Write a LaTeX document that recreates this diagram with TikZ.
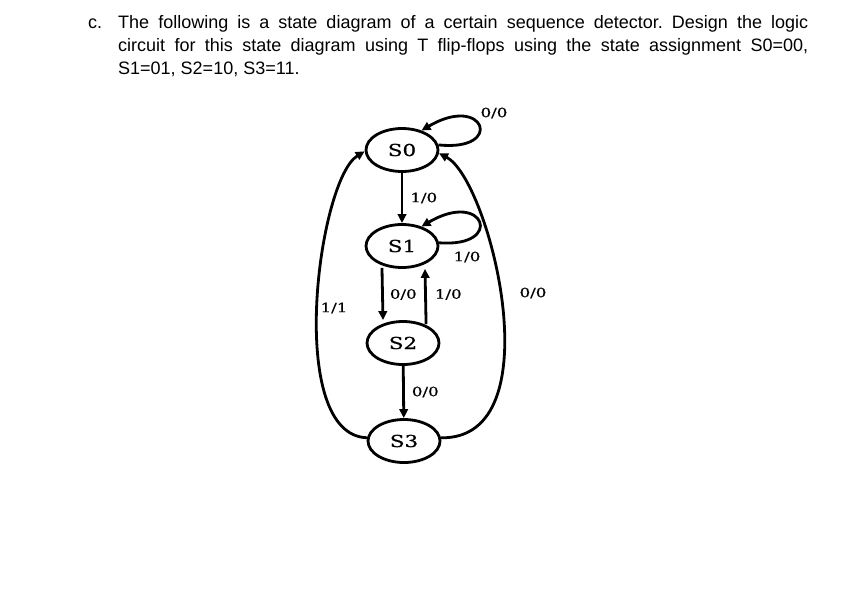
\documentclass[tikz,border=0pt]{standalone}
\usepackage{fontspec}
\setmainfont{Liberation Sans}
\newfontfamily\diagfont[FakeStretch=1.3,FakeBold=0.7]{DejaVu Serif}
\usetikzlibrary{shapes.geometric,arrows.meta}
\frenchspacing
\begin{document}
\begin{tikzpicture}[x=1pt,y=-1pt,
  state/.style={ellipse,draw,line width=2.8pt,minimum width=72pt,minimum height=43pt,inner sep=0pt,font=\diagfont\fontsize{16.5}{18}\selectfont},
  edge/.style={line width=2.8pt,-{Triangle[length=9pt,width=8.5pt]}},
  lbl/.style={font=\diagfont\fontsize{12.8}{14}\selectfont,inner sep=0pt},
  txt/.style={font=\fontsize{18}{22}\selectfont,anchor=base west,inner sep=0pt}]
\useasboundingbox[fill=white] (0,0) rectangle (848,592);
% question text
\node[txt] (c) at (88,28) {c.};
\node[txt] (l1) at (118,28) {\makebox[690pt][s]{The following is a state diagram of a certain sequence detector. Design the logic}};
\node[txt] (l2) at (118,51) {\makebox[690pt][s]{circuit for this state diagram using T flip-flops using the state assignment S0=00,}};
\node[txt] (l3) at (118,74) {S1=01, S2=10, S3=11.};
% states
\node[state] (s0) at (402,150) {S0};
\node[state] (s1) at (402,246) {S1};
\node[state] (s2) at (403,343) {S2};
\node[state] (s3) at (404,441) {S3};
% transitions
\draw[edge] (s0) -- node[lbl,right=7pt]{1/0} (s1);
\draw[edge] (s0.8) .. controls (505,152) and (485,93) .. (s0.45);
\node[lbl] (l00a) at (494,113) {0/0};
\draw[edge] (s1.5) .. controls (505,248) and (485,189) .. (s1.45);
\node[lbl] (l10a) at (467,257) {1/0};
\draw[edge,shorten <=-1pt] ([xshift=-20pt]s1.south) -- node[lbl,right=6pt]{0/0} ([xshift=-20pt]s2.north);
\draw[edge,shorten <=-4pt] ([xshift=23pt]s2.north) -- node[lbl,right=8pt]{1/0} ([xshift=23pt]s1.south);
\draw[edge] (s2) -- node[lbl,right=7pt]{0/0} (s3);
\draw[edge] (s3.175) .. controls (285,435) and (318,180) .. (s0.182);
\node[lbl] (l11) at (334,308) {1/1};
\draw[edge] (s3.5) .. controls (555,440) and (490,180) .. (s0.355);
\node[lbl] (l00b) at (533,293) {0/0};
\end{tikzpicture}
\end{document}
